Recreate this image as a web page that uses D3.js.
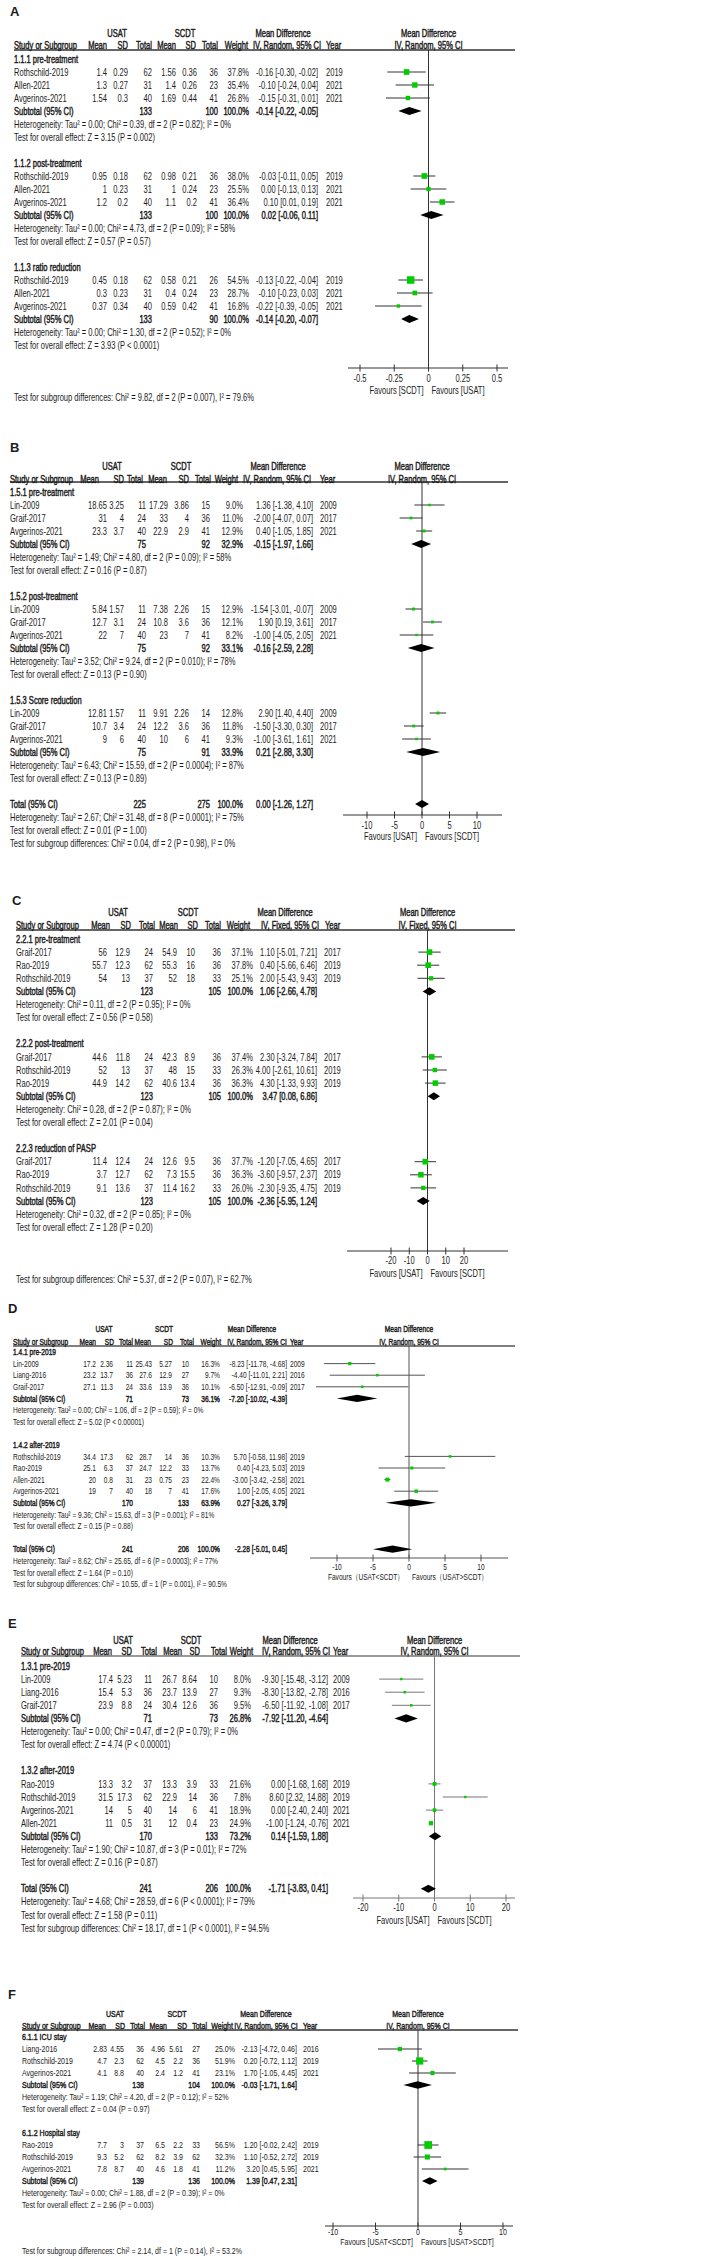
<!DOCTYPE html>
<html><head><meta charset="utf-8">
<script src="https://cdn.jsdelivr.net/npm/d3@7"></script>
<style>body{margin:0;background:#fff}</style>
</head><body>
<svg id="c" width="708" height="2256"></svg>
<script>
// ---------------- DATA ----------------
// study rows: [subgroup, study, USAT mean, USAT SD, USAT n, SCDT mean, SCDT SD, SCDT n, weight %, MD, lower, upper, year]
// summary rows: [USAT n, SCDT n, weight %, MD, lower, upper]

const A_subgroups = ["1.1.1 pre-treatment", "1.1.2 post-treatment", "1.1.3 ratio reduction"];
const A_studies = [
  [0, "Rothschild-2019", 1.4, 0.29, 62, 1.56, 0.36, 36, 37.8, -0.16, -0.30, -0.02, 2019],
  [0, "Allen-2021", 1.3, 0.27, 31, 1.4, 0.26, 23, 35.4, -0.10, -0.24, 0.04, 2021],
  [0, "Avgerinos-2021", 1.54, 0.3, 40, 1.69, 0.44, 41, 26.8, -0.15, -0.31, 0.01, 2021],
  [1, "Rothschild-2019", 0.95, 0.18, 62, 0.98, 0.21, 36, 38.0, -0.03, -0.11, 0.05, 2019],
  [1, "Allen-2021", 1, 0.23, 31, 1, 0.24, 23, 25.5, 0.00, -0.13, 0.13, 2021],
  [1, "Avgerinos-2021", 1.2, 0.2, 40, 1.1, 0.2, 41, 36.4, 0.10, 0.01, 0.19, 2021],
  [2, "Rothschild-2019", 0.45, 0.18, 62, 0.58, 0.21, 26, 54.5, -0.13, -0.22, -0.04, 2019],
  [2, "Allen-2021", 0.3, 0.23, 31, 0.4, 0.24, 23, 28.7, -0.10, -0.23, 0.03, 2021],
  [2, "Avgerinos-2021", 0.37, 0.34, 40, 0.59, 0.42, 41, 16.8, -0.22, -0.39, -0.05, 2021]
];
const A_subtotals = [[133, 100, 100.0, -0.14, -0.22, -0.05], [133, 100, 100.0, 0.02, -0.06, 0.11], [133, 90, 100.0, -0.14, -0.20, -0.07]];
const A_het = [
  "Heterogeneity: Tau² = 0.00; Chi² = 0.39, df = 2 (P = 0.82); I² = 0%",
  "Heterogeneity: Tau² = 0.00; Chi² = 4.73, df = 2 (P = 0.09); I² = 58%",
  "Heterogeneity: Tau² = 0.00; Chi² = 1.30, df = 2 (P = 0.52); I² = 0%"];
const A_overall = ["Test for overall effect: Z = 3.15 (P = 0.002)", "Test for overall effect: Z = 0.57 (P = 0.57)", "Test for overall effect: Z = 3.93 (P < 0.0001)"];
const A_sgTest = "Test for subgroup differences: Chi² = 9.82, df = 2 (P = 0.007), I² = 79.6%";
const A_ticks = [-0.5, -0.25, 0, 0.25, 0.5];
const A_favours = ["Favours [SCDT]", "Favours [USAT]"];

const B_subgroups = ["1.5.1 pre-treatment", "1.5.2 post-treatment", "1.5.3 Score reduction"];
const B_studies = [
  [0, "Lin-2009", 18.65, 3.25, 11, 17.29, 3.86, 15, 9.0, 1.36, -1.38, 4.10, 2009],
  [0, "Graif-2017", 31, 4, 24, 33, 4, 36, 11.0, -2.00, -4.07, 0.07, 2017],
  [0, "Avgerinos-2021", 23.3, 3.7, 40, 22.9, 2.9, 41, 12.9, 0.40, -1.05, 1.85, 2021],
  [1, "Lin-2009", 5.84, 1.57, 11, 7.38, 2.26, 15, 12.9, -1.54, -3.01, -0.07, 2009],
  [1, "Graif-2017", 12.7, 3.1, 24, 10.8, 3.6, 36, 12.1, 1.90, 0.19, 3.61, 2017],
  [1, "Avgerinos-2021", 22, 7, 40, 23, 7, 41, 8.2, -1.00, -4.05, 2.05, 2021],
  [2, "Lin-2009", 12.81, 1.57, 11, 9.91, 2.26, 14, 12.8, 2.90, 1.40, 4.40, 2009],
  [2, "Graif-2017", 10.7, 3.4, 24, 12.2, 3.6, 36, 11.8, -1.50, -3.30, 0.30, 2017],
  [2, "Avgerinos-2021", 9, 6, 40, 10, 6, 41, 9.3, -1.00, -3.61, 1.61, 2021]
];
const B_subtotals = [[75, 92, 32.9, -0.15, -1.97, 1.66], [75, 92, 33.1, -0.16, -2.59, 2.28], [75, 91, 33.9, 0.21, -2.88, 3.30]];
const B_het = [
  "Heterogeneity: Tau² = 1.49; Chi² = 4.80, df = 2 (P = 0.09); I² = 58%",
  "Heterogeneity: Tau² = 3.52; Chi² = 9.24, df = 2 (P = 0.010); I² = 78%",
  "Heterogeneity: Tau² = 6.43; Chi² = 15.59, df = 2 (P = 0.0004); I² = 87%"];
const B_overall = ["Test for overall effect: Z = 0.16 (P = 0.87)", "Test for overall effect: Z = 0.13 (P = 0.90)", "Test for overall effect: Z = 0.13 (P = 0.89)"];
const B_total = [225, 275, 100.0, 0.00, -1.26, 1.27];
const B_totalHet = "Heterogeneity: Tau² = 2.67; Chi² = 31.48, df = 8 (P = 0.0001); I² = 75%";
const B_totalOverall = "Test for overall effect: Z = 0.01 (P = 1.00)";
const B_sgTest = "Test for subgroup differences: Chi² = 0.04, df = 2 (P = 0.98), I² = 0%";
const B_ticks = [-10, -5, 0, 5, 10];
const B_favours = ["Favours [USAT]", "Favours [SCDT]"];

const C_subgroups = ["2.2.1 pre-treatment", "2.2.2 post-treatment", "2.2.3 reduction of PASP"];
const C_studies = [
  [0, "Graif-2017", 56, 12.9, 24, 54.9, 10, 36, 37.1, 1.10, -5.01, 7.21, 2017],
  [0, "Rao-2019", 55.7, 12.3, 62, 55.3, 16, 36, 37.8, 0.40, -5.66, 6.46, 2019],
  [0, "Rothschild-2019", 54, 13, 37, 52, 18, 33, 25.1, 2.00, -5.43, 9.43, 2019],
  [1, "Graif-2017", 44.6, 11.8, 24, 42.3, 8.9, 36, 37.4, 2.30, -3.24, 7.84, 2017],
  [1, "Rothschild-2019", 52, 13, 37, 48, 15, 33, 26.3, 4.00, -2.61, 10.61, 2019],
  [1, "Rao-2019", 44.9, 14.2, 62, 40.6, 13.4, 36, 36.3, 4.30, -1.33, 9.93, 2019],
  [2, "Graif-2017", 11.4, 12.4, 24, 12.6, 9.5, 36, 37.7, -1.20, -7.05, 4.65, 2017],
  [2, "Rao-2019", 3.7, 12.7, 62, 7.3, 15.5, 36, 36.3, -3.60, -9.57, 2.37, 2019],
  [2, "Rothschild-2019", 9.1, 13.6, 37, 11.4, 16.2, 33, 26.0, -2.30, -9.35, 4.75, 2019]
];
const C_subtotals = [[123, 105, 100.0, 1.06, -2.66, 4.78], [123, 105, 100.0, 3.47, 0.08, 6.86], [123, 105, 100.0, -2.36, -5.95, 1.24]];
const C_het = [
  "Heterogeneity: Chi² = 0.11, df = 2 (P = 0.95); I² = 0%",
  "Heterogeneity: Chi² = 0.28, df = 2 (P = 0.87); I² = 0%",
  "Heterogeneity: Chi² = 0.32, df = 2 (P = 0.85); I² = 0%"];
const C_overall = ["Test for overall effect: Z = 0.56 (P = 0.58)", "Test for overall effect: Z = 2.01 (P = 0.04)", "Test for overall effect: Z = 1.28 (P = 0.20)"];
const C_sgTest = "Test for subgroup differences: Chi² = 5.37, df = 2 (P = 0.07), I² = 62.7%";
const C_ticks = [-20, -10, 0, 10, 20];
const C_favours = ["Favours [USAT]", "Favours [SCDT]"];

const D_subgroups = ["1.4.1 pre-2019", "1.4.2 after-2019"];
const D_studies = [
  [0, "Lin-2009", 17.2, 2.36, 11, 25.43, 5.27, 10, 16.3, -8.23, -11.78, -4.68, 2009],
  [0, "Liang-2016", 23.2, 13.7, 36, 27.6, 12.9, 27, 9.7, -4.40, -11.01, 2.21, 2016],
  [0, "Graif-2017", 27.1, 11.3, 24, 33.6, 13.9, 36, 10.1, -6.50, -12.91, -0.09, 2017],
  [1, "Rothschild-2019", 34.4, 17.3, 62, 28.7, 14, 36, 10.3, 5.70, -0.58, 11.98, 2019],
  [1, "Rao-2019", 25.1, 6.3, 37, 24.7, 12.2, 33, 13.7, 0.40, -4.23, 5.03, 2019],
  [1, "Allen-2021", 20, 0.8, 31, 23, 0.75, 23, 22.4, -3.00, -3.42, -2.58, 2021],
  [1, "Avgerinos-2021", 19, 7, 40, 18, 7, 41, 17.6, 1.00, -2.05, 4.05, 2021]
];
const D_subtotals = [[71, 73, 36.1, -7.20, -10.02, -4.39], [170, 133, 63.9, 0.27, -3.26, 3.79]];
const D_het = [
  "Heterogeneity: Tau² = 0.00; Chi² = 1.06, df = 2 (P = 0.59); I² = 0%",
  "Heterogeneity: Tau² = 9.36; Chi² = 15.63, df = 3 (P = 0.001); I² = 81%"];
const D_overall = ["Test for overall effect: Z = 5.02 (P < 0.00001)", "Test for overall effect: Z = 0.15 (P = 0.88)"];
const D_total = [241, 206, 100.0, -2.28, -5.01, 0.45];
const D_totalHet = "Heterogeneity: Tau² = 8.62; Chi² = 25.65, df = 6 (P = 0.0003); I² = 77%";
const D_totalOverall = "Test for overall effect: Z = 1.64 (P = 0.10)";
const D_sgTest = "Test for subgroup differences: Chi² = 10.55, df = 1 (P = 0.001), I² = 90.5%";
const D_ticks = [-10, -5, 0, 5, 10];
const D_favours = ["Favours（USAT<SCDT）", "Favours（USAT>SCDT）"];

const E_subgroups = ["1.3.1 pre-2019", "1.3.2 after-2019"];
const E_studies = [
  [0, "Lin-2009", 17.4, 5.23, 11, 26.7, 8.64, 10, 8.0, -9.30, -15.48, -3.12, 2009],
  [0, "Liang-2016", 15.4, 5.3, 36, 23.7, 13.9, 27, 9.3, -8.30, -13.82, -2.78, 2016],
  [0, "Graif-2017", 23.9, 8.8, 24, 30.4, 12.6, 36, 9.5, -6.50, -11.92, -1.08, 2017],
  [1, "Rao-2019", 13.3, 3.2, 37, 13.3, 3.9, 33, 21.6, 0.00, -1.68, 1.68, 2019],
  [1, "Rothschild-2019", 31.5, 17.3, 62, 22.9, 14, 36, 7.8, 8.60, 2.32, 14.88, 2019],
  [1, "Avgerinos-2021", 14, 5, 40, 14, 6, 41, 18.9, 0.00, -2.40, 2.40, 2021],
  [1, "Allen-2021", 11, 0.5, 31, 12, 0.4, 23, 24.9, -1.00, -1.24, -0.76, 2021]
];
const E_subtotals = [[71, 73, 26.8, -7.92, -11.20, -4.64], [170, 133, 73.2, 0.14, -1.59, 1.88]];
const E_het = [
  "Heterogeneity: Tau² = 0.00; Chi² = 0.47, df = 2 (P = 0.79); I² = 0%",
  "Heterogeneity: Tau² = 1.90; Chi² = 10.87, df = 3 (P = 0.01); I² = 72%"];
const E_overall = ["Test for overall effect: Z = 4.74 (P < 0.00001)", "Test for overall effect: Z = 0.16 (P = 0.87)"];
const E_total = [241, 206, 100.0, -1.71, -3.83, 0.41];
const E_totalHet = "Heterogeneity: Tau² = 4.68; Chi² = 28.59, df = 6 (P < 0.0001); I² = 79%";
const E_totalOverall = "Test for overall effect: Z = 1.58 (P = 0.11)";
const E_sgTest = "Test for subgroup differences: Chi² = 18.17, df = 1 (P < 0.0001), I² = 94.5%";
const E_ticks = [-20, -10, 0, 10, 20];
const E_favours = ["Favours [USAT]", "Favours [SCDT]"];

const F_subgroups = ["6.1.1 ICU stay", "6.1.2 Hospital stay"];
const F_studies = [
  [0, "Liang-2016", 2.83, 4.55, 36, 4.96, 5.61, 27, 25.0, -2.13, -4.72, 0.46, 2016],
  [0, "Rothschild-2019", 4.7, 2.3, 62, 4.5, 2.2, 36, 51.9, 0.20, -0.72, 1.12, 2019],
  [0, "Avgerinos-2021", 4.1, 8.8, 40, 2.4, 1.2, 41, 23.1, 1.70, -1.05, 4.45, 2021],
  [1, "Rao-2019", 7.7, 3, 37, 6.5, 2.2, 33, 56.5, 1.20, -0.02, 2.42, 2019],
  [1, "Rothschild-2019", 9.3, 5.2, 62, 8.2, 3.9, 62, 32.3, 1.10, -0.52, 2.72, 2019],
  [1, "Avgerinos-2021", 7.8, 8.7, 40, 4.6, 1.8, 41, 11.2, 3.20, 0.45, 5.95, 2021]
];
const F_subtotals = [[138, 104, 100.0, -0.03, -1.71, 1.64], [139, 136, 100.0, 1.39, 0.47, 2.31]];
const F_het = [
  "Heterogeneity: Tau² = 1.19; Chi² = 4.20, df = 2 (P = 0.12); I² = 52%",
  "Heterogeneity: Tau² = 0.00; Chi² = 1.88, df = 2 (P = 0.39); I² = 0%"];
const F_overall = ["Test for overall effect: Z = 0.04 (P = 0.97)", "Test for overall effect: Z = 2.96 (P = 0.003)"];
const F_sgTest = "Test for subgroup differences: Chi² = 2.14, df = 1 (P = 0.14), I² = 53.2%";
const F_ticks = [-10, -5, 0, 5, 10];
const F_favours = ["Favours [USAT<SCDT]", "Favours [USAT>SCDT]"];

// ---------------- LAYOUT ----------------
const SX = 0.72;
const TEXT = "#1c1c1c";
const GREEN = "#0c0";
const FONT = "'Liberation Sans', Arial, sans-serif";

const L_A = {letterX: 10, letterY: 11, hdr1: 33, hdr2: 45, lineY: 50, row0: 59, step: 13, fs: 10.5,
  c: {name: 14, m1: 107, sd1: 128, n1: 152, m2: 176, sd2: 197, n2: 218, w: 249, ci: 318, year: 326},
  h: {m1: 107, sd1: 128, n1: 152, m2: 176, sd2: 196, n2: 218, w: 248, year: 326},
  usat: 117, scdt: 185, md: 283, ivc: 287, xr: [360, 497], axis: [348, 508], lineEnd: 515,
  axisY: 368, tickY: 378, favY: 390, sgY: 397, lc: "#333"};
const L_B = {letterX: 10, letterY: 447, hdr1: 466, hdr2: 479, lineY: 482, row0: 492, step: 13, fs: 10.5,
  c: {name: 10, m1: 107, sd1: 124, n1: 146, m2: 168, sd2: 189, n2: 210, w: 243, ci: 313, year: 320},
  h: {m1: 99, sd1: 124, n1: 143, m2: 167, sd2: 189, n2: 211, w: 238, year: 320},
  usat: 112, scdt: 181, md: 278, ivc: 277, xr: [367, 477], axis: [343, 502], lineEnd: 508,
  axisY: 815, tickY: 825, favY: 836, lc: "#333"};
const L_C = {letterX: 12, letterY: 900, hdr1: 912, hdr2: 925, lineY: 930, row0: 939, step: 13.1, fs: 10.5,
  c: {name: 16, m1: 107, sd1: 130, n1: 153, m2: 177, sd2: 195, n2: 221, w: 253, ci: 317, year: 324},
  h: {m1: 110, sd1: 131, n1: 155, m2: 178, sd2: 198, n2: 221, w: 250, year: 325},
  usat: 118, scdt: 188, md: 285, ivc: 290, xr: [391, 464], axis: [347, 508], lineEnd: 515,
  axisY: 1251, tickY: 1260, favY: 1273, sgY: 1279, lc: "#333"};
const L_D = {letterX: 8, letterY: 1308, hdr1: 1329, hdr2: 1342, lineY: 1346, row0: 1352, step: 11.6, fs: 9.2,
  c: {name: 13, m1: 96, sd1: 113, n1: 133, m2: 152, sd2: 172, n2: 189, w: 220, ci: 287, year: 290},
  h: {m1: 96, sd1: 114, n1: 133, m2: 151, sd2: 173, n2: 194, w: 221, year: 290},
  usat: 104, scdt: 164, md: 252, ivc: 257, xr: [337, 481], axis: [310, 508], lineEnd: 515,
  axisY: 1558, tickY: 1567, favY: 1577, lc: "#555"};
const L_E = {letterX: 8, letterY: 1623, hdr1: 1640, hdr2: 1651, lineY: 1656, row0: 1666, step: 13.1, fs: 10.5,
  c: {name: 21, m1: 113, sd1: 132, n1: 152, m2: 177, sd2: 197, n2: 218, w: 251, ci: 328, year: 333},
  h: {m1: 112, sd1: 132, n1: 157, m2: 182, sd2: 200, n2: 227, w: 253, year: 333},
  usat: 123, scdt: 191, md: 290, ivc: 296, xr: [363, 506], axis: [353, 515], lineEnd: 520,
  axisY: 1898, tickY: 1907, favY: 1920, lc: "#777"};
const L_F = {letterX: 8, letterY: 1994, hdr1: 2014, hdr2: 2026, lineY: 2030, row0: 2037, step: 12, fs: 9.8,
  c: {name: 22, m1: 107, sd1: 124, n1: 144, m2: 165, sd2: 183, n2: 200, w: 235, ci: 297, year: 303},
  h: {m1: 106, sd1: 125, n1: 145, m2: 167, sd2: 187, n2: 207, w: 233, year: 303},
  usat: 115, scdt: 177, md: 266, ivc: 266, xr: [333, 503], axis: [325, 513], lineEnd: 518,
  axisY: 2226, tickY: 2232, favY: 2242, sgY: 2251, lc: "#333"};

const panels = [
  [{letter: "A", method: "IV, Random, 95% CI", subgroups: A_subgroups, studies: A_studies, subtotals: A_subtotals, het: A_het, overall: A_overall, total: null, sgTest: A_sgTest, ticks: A_ticks, favours: A_favours}, L_A],
  [{letter: "B", method: "IV, Random, 95% CI", subgroups: B_subgroups, studies: B_studies, subtotals: B_subtotals, het: B_het, overall: B_overall, total: B_total, totalHet: B_totalHet, totalOverall: B_totalOverall, sgTest: B_sgTest, ticks: B_ticks, favours: B_favours}, L_B],
  [{letter: "C", method: "IV, Fixed, 95% CI", subgroups: C_subgroups, studies: C_studies, subtotals: C_subtotals, het: C_het, overall: C_overall, total: null, sgTest: C_sgTest, ticks: C_ticks, favours: C_favours}, L_C],
  [{letter: "D", method: "IV, Random, 95% CI", subgroups: D_subgroups, studies: D_studies, subtotals: D_subtotals, het: D_het, overall: D_overall, total: D_total, totalHet: D_totalHet, totalOverall: D_totalOverall, sgTest: D_sgTest, ticks: D_ticks, favours: D_favours}, L_D],
  [{letter: "E", method: "IV, Random, 95% CI", subgroups: E_subgroups, studies: E_studies, subtotals: E_subtotals, het: E_het, overall: E_overall, total: E_total, totalHet: E_totalHet, totalOverall: E_totalOverall, sgTest: E_sgTest, ticks: E_ticks, favours: E_favours}, L_E],
  [{letter: "F", method: "IV, Random, 95% CI", subgroups: F_subgroups, studies: F_studies, subtotals: F_subtotals, het: F_het, overall: F_overall, total: null, sgTest: F_sgTest, ticks: F_ticks, favours: F_favours}, L_F]
];

// ---------------- RENDER ----------------
const svg = d3.select("#c").attr("font-family", FONT);
const fmtCI = (m, lo, hi) => `${m.toFixed(2)} [${lo.toFixed(2)}, ${hi.toFixed(2)}]`;

function drawPanel(P, L) {
  const g = svg.append("g");
  const gl = g.append("g"), gm = g.append("g"), gt = g.append("g");
  const fs = L.fs, c = L.c, h = L.h;
  const x = d3.scaleLinear().domain(d3.extent(P.ticks)).range(L.xr);
  // condensed text; "bold" drawn as a faux bold (same advance widths as regular)
  const T = (xx, yy, s, o = {}) => gt.append("text")
    .attr("transform", `translate(${xx},${yy}) scale(${SX},1)`)
    .attr("dy", "0.35em")
    .attr("text-anchor", o.a || "start")
    .attr("font-size", o.fs || fs)
    .attr("fill", TEXT)
    .attr("stroke", o.b ? TEXT : "none")
    .attr("stroke-width", o.b ? 0.45 : 0)
    .text(s);

  gt.append("text").attr("x", L.letterX).attr("y", L.letterY).attr("dy", "0.35em")
    .attr("font-size", 13).attr("font-weight", "bold").attr("fill", TEXT).text(P.letter);

  T(L.usat, L.hdr1, "USAT", {a: "middle", b: true});
  T(L.scdt, L.hdr1, "SCDT", {a: "middle", b: true});
  T(L.md, L.hdr1, "Mean Difference", {a: "middle", b: true});
  T(x(0), L.hdr1, "Mean Difference", {a: "middle", b: true});
  T(c.name, L.hdr2, "Study or Subgroup", {b: true});
  [["m1", "Mean"], ["sd1", "SD"], ["n1", "Total"], ["m2", "Mean"], ["sd2", "SD"], ["n2", "Total"], ["w", "Weight"]]
    .forEach(([k, s]) => T(h[k], L.hdr2, s, {a: "end", b: true}));
  T(L.ivc, L.hdr2, P.method, {a: "middle", b: true});
  T(h.year, L.hdr2, "Year", {b: true});
  T(x(0), L.hdr2, P.method, {a: "middle", b: true});

  gl.append("line").attr("x1", c.name).attr("x2", L.lineEnd).attr("y1", L.lineY).attr("y2", L.lineY)
    .attr("stroke", L.lc).attr("stroke-width", 1.3);
  gl.append("line").attr("x1", x(0)).attr("x2", x(0)).attr("y1", L.lineY).attr("y2", L.axisY)
    .attr("stroke", L.lc).attr("stroke-width", 1);

  const Y = i => L.row0 + L.step * i;
  const dh = L.step * 0.62;
  const diamond = (y, d) => gm.append("path")
    .attr("d", `M${x(d[4])},${y}L${x(d[3])},${y - dh / 2}L${x(d[5])},${y}L${x(d[3])},${y + dh / 2}Z`)
    .attr("fill", "#000");
  const sumRow = (y, label, d) => {
    T(c.name, y, label, {b: true});
    T(c.n1, y, String(d[0]), {a: "end", b: true});
    T(c.n2, y, String(d[1]), {a: "end", b: true});
    T(c.w, y, d[2].toFixed(1) + "%", {a: "end", b: true});
    T(c.ci, y, fmtCI(d[3], d[4], d[5]), {a: "end", b: true});
    diamond(y, d);
  };

  let r = 0;
  P.subgroups.forEach((sg, gi) => {
    T(c.name, Y(r++), sg, {b: true});
    P.studies.filter(s => s[0] === gi).forEach(s => {
      const y = Y(r++);
      T(c.name, y, s[1]);
      ["m1", "sd1", "n1", "m2", "sd2", "n2"].forEach((k, j) => T(c[k], y, String(s[2 + j]), {a: "end"}));
      T(c.w, y, s[8].toFixed(1) + "%", {a: "end"});
      T(c.ci, y, fmtCI(s[9], s[10], s[11]), {a: "end"});
      T(c.year, y, String(s[12]));
      gl.append("line").attr("x1", x(s[10])).attr("x2", x(s[11])).attr("y1", y).attr("y2", y)
        .attr("stroke", L.lc).attr("stroke-width", 1);
      const sz = 1.5 + s[8] * 0.11;
      gm.append("rect").attr("x", x(s[9]) - sz / 2).attr("y", y - sz / 2)
        .attr("width", sz).attr("height", sz).attr("fill", GREEN);
    });
    sumRow(Y(r++), "Subtotal (95% CI)", P.subtotals[gi]);
    T(c.name, Y(r++), P.het[gi]);
    T(c.name, Y(r++), P.overall[gi]);
    r++;
  });
  if (P.total) {
    sumRow(Y(r++), "Total (95% CI)", P.total);
    T(c.name, Y(r++), P.totalHet);
    T(c.name, Y(r++), P.totalOverall);
    T(c.name, Y(r++), P.sgTest);
  } else {
    T(c.name, L.sgY, P.sgTest);
  }

  gl.append("line").attr("x1", L.axis[0]).attr("x2", L.axis[1]).attr("y1", L.axisY).attr("y2", L.axisY)
    .attr("stroke", L.lc).attr("stroke-width", 1);
  P.ticks.forEach(t => {
    gl.append("line").attr("x1", x(t)).attr("x2", x(t)).attr("y1", L.axisY - 3.5).attr("y2", L.axisY + 3.5)
      .attr("stroke", L.lc).attr("stroke-width", 1);
    T(x(t), L.tickY, String(t), {a: "middle"});
  });
  T(x(0) - 5, L.favY, P.favours[0], {a: "end"});
  T(x(0) + 3, L.favY, P.favours[1], {a: "start"});
}

panels.forEach(([P, L]) => drawPanel(P, L));
</script>
</body></html>
